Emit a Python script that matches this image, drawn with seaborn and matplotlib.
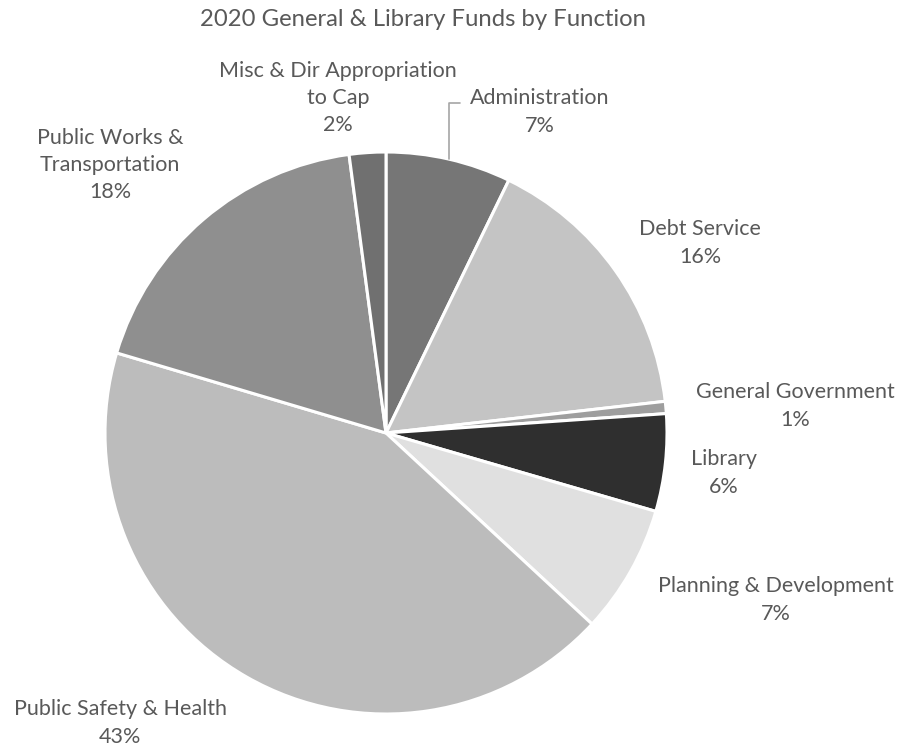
import matplotlib
matplotlib.use("Agg")
import matplotlib.pyplot as plt
import seaborn as sns
import numpy as np

# Budget shares by function (percent), clockwise from 12 o'clock
functions = [
    "Administration",
    "Debt Service",
    "General Government",
    "Library",
    "Planning & Development",
    "Public Safety & Health",
    "Public Works &\nTransportation",
    "Misc & Dir Appropriation\nto Cap",
]
shares = [7.2, 16.0, 0.7, 5.6, 7.4, 42.7, 18.3, 2.1]
slice_colors = ["#767676", "#c4c4c4", "#9e9e9e", "#2f2f2f",
                "#e0e0e0", "#bcbcbc", "#8f8f8f", "#707070"]

title = "2020 General & Library Funds by Function"

# label anchor points (pixels from top-left), in slice order
label_pos = [(540, 112), (700, 243), (795, 406), (724, 473),
             (776, 600), (120, 723), (110, 165), (338, 98)]

sns.set_theme(style="white")
plt.rcParams["font.family"] = ["Lato", "DejaVu Sans"]

W, H = 900, 749
fig = plt.figure(figsize=(W / 100, H / 100), dpi=100)
ax = fig.add_axes([0, 0, 1, 1])

cx, cy, r = 386, H - 433, 281
wedges, _ = ax.pie(
    shares,
    colors=slice_colors,
    startangle=90,
    counterclock=False,
    center=(cx, cy),
    radius=r,
    wedgeprops=dict(edgecolor="white", linewidth=2.2),
    frame=True,
)
ax.set_xlim(0, W)
ax.set_ylim(0, H)
ax.set_aspect("equal")
ax.axis("off")

text_color = "#595959"
for name, val, (lx, ly) in zip(functions, shares, label_pos):
    ax.text(lx, H - ly, f"{name}\n{val:.0f}%", ha="center", va="center",
            fontsize=15.5, color=text_color, linespacing=1.45)

# leader line for the Administration label, from the wedge's midpoint
mid = np.deg2rad(90 - 360 * shares[0] * 0.5 / 100)
px, py = cx + r * np.cos(mid), cy + r * np.sin(mid)
ax.plot([px, px, px + 11], [py, H - 103, H - 103], color="#a6a6a6", lw=1.2)

ax.text(423, H - 20, title, ha="center", va="center", fontsize=17.2, color=text_color)

fig.savefig("out.png", dpi=100)
